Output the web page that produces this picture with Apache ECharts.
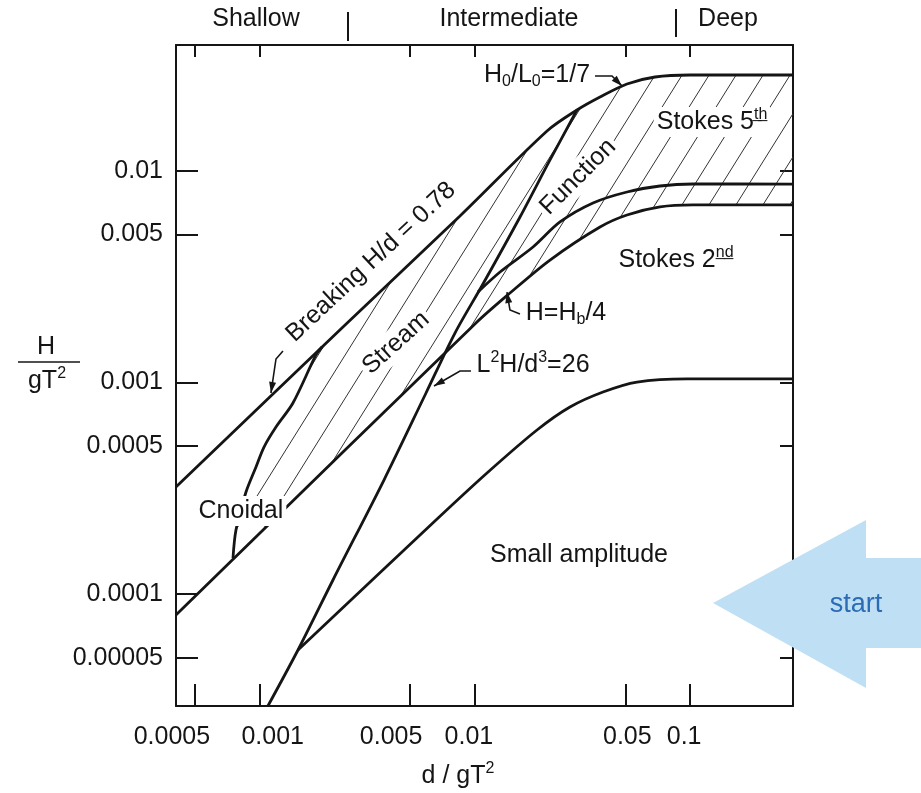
<!DOCTYPE html>
<html><head><meta charset="utf-8">
<script src="https://cdn.jsdelivr.net/npm/echarts@6/dist/echarts.min.js"></script>
<style>html,body{margin:0;padding:0;background:#fff}#c{width:921px;height:793px}</style>
</head><body><div id="c"></div>
<script>
// ---------- data ----------
const xTickValues = [0.0005, 0.001, 0.005, 0.01, 0.05, 0.1];
const xTickLabels = ['0.0005', '0.001', '0.005', '0.01', '0.05', '0.1'];
const yTickValues = [0.01, 0.005, 0.001, 0.0005, 0.0001, 0.00005];
const yTickLabels = ['0.01', '0.005', '0.001', '0.0005', '0.0001', '0.00005'];
const depthZones = ['Shallow', 'Intermediate', 'Deep'];

// Breaking limit H/d = 0.78 joining H0/L0 = 1/7
const breakingD = [0.000408, 0.002437, 0.008522, 0.02163, 0.0298, 0.03813, 0.05088, 0.06868, 0.09986, 0.3];
const breakingH = [0.0003206, 0.001827, 0.006109, 0.0154, 0.01935, 0.02229, 0.02568, 0.02771, 0.02832, 0.02832];
// Ursell line L^2H/d^3 = 26
const ursellD = [0.001093, 0.001506, 0.00219, 0.003779, 0.005926, 0.008078, 0.0109, 0.0162, 0.02233, 0.0298];
const ursellH = [0.0000297, 0.00005445, 0.0001166, 0.0003459, 0.0008912, 0.001711, 0.002916, 0.006043, 0.01124, 0.01935];
// H = Hb/4
const hb4D = [0.000408, 0.01011, 0.01455, 0.02233, 0.03813, 0.05088, 0.07244, 0.1031, 0.3];
const hb4H = [0.0000797, 0.001909, 0.002644, 0.003786, 0.005421, 0.006177, 0.006741, 0.006889, 0.00689];
// Stokes 5th / 2nd boundary
const stokesD = [0.01033, 0.01308, 0.01862, 0.02485, 0.03537, 0.05088, 0.07244, 0.1031, 0.3];
const stokesH = [0.002673, 0.003322, 0.004361, 0.005725, 0.00704, 0.007934, 0.008468, 0.008654, 0.00865];
// Small amplitude limit
const smallD = [0.001506, 0.006594, 0.01138, 0.01943, 0.02765, 0.03937, 0.05663, 0.09671, 0.3];
const smallH = [0.00005445, 0.0002239, 0.0003733, 0.0005959, 0.0007654, 0.000901, 0.001004, 0.00104, 0.00104];
// Cnoidal / Stream function boundary
const cnoidalD = [0.0007513, 0.0007757, 0.0008635, 0.0009609, 0.001047, 0.00119, 0.001427, 0.001826, 0.001947];
const cnoidalH = [0.0001481, 0.0002008, 0.0003036, 0.0003985, 0.0004953, 0.0006157, 0.0007993, 0.001348, 0.00147];

// ---------- helpers / layout ----------
const lg = Math.log10;
const FONT = '"Liberation Sans", Arial, Helvetica, sans-serif';
const INK = '#151515';
const pairs = (xs, ys) => xs.map((x, i) => [lg(x), lg(ys[i])]);
// horizontal nudges of the bottom tick labels (hand-placed in the original)
const xLabelNudge = [-23, 13, -19, -6, 2, -6];

const RICH = {
  sub: { fontSize: 16, lineHeight: 16, verticalAlign: 'bottom', fontFamily: FONT, fill: INK, color: INK },
  sup: { fontSize: 16, lineHeight: 16, verticalAlign: 'top', fontFamily: FONT, fill: INK, color: INK }
};

const annotations = [
  { at: [0.00329, 0.003705], text: 'Breaking H/d = 0.78', rot: 43 },
  { at: [0.004297, 0.001535], text: 'Stream', rot: 42, bg: true },
  { at: [0.03013, 0.009343], text: 'Function', rot: 45, bg: true },
  { at: [0.1264, 0.01699], text: 'Stokes 5{sup|t\u0332h\u0332}', rot: 0, bg: true },
  { at: [0.08598, 0.003786], text: 'Stokes 2{sup|n\u0332d\u0332}', rot: 0 },
  { at: [0.01943, 0.02832], text: 'H{sub|0}/L{sub|0}=1/7', rot: 0 },
  { at: [0.0265, 0.002127], text: 'H=H{sub|b}/4', rot: 0 },
  { at: [0.01862, 0.001209], text: 'L{sup|2}H/d{sup|3}=26', rot: 0 },
  { at: [0.000818, 0.000247], text: 'Cnoidal', rot: 0, bg: true },
  { at: [0.03046, 0.000153], text: 'Small amplitude', rot: 0 }
];
const leaders = [
  { at: [0.001128, 0.0008912], path: [[0, 0], [5, -34], [12, -42]] },
  { at: [0.04825, 0.02513], path: [[0, 0], [-10, -10], [-27, -10]] },
  { at: [0.01409, 0.002673], path: [[0, 0], [3, 18], [13, 22]] },
  { at: [0.006452, 0.0009617], path: [[0, 0], [14, -8], [26, -15], [37, -15]] }
];

function labelFor(values, labels, v) {
  let best = -1, bd = Infinity;
  for (let i = 0; i < values.length; i++) {
    const d = Math.abs(lg(values[i]) - v);
    if (d < bd) { bd = d; best = i; }
  }
  return bd < 1e-3 ? labels[best] : '';
}

function hatchRender(params, api) {
  if (params.dataIndex !== 0) return;
  const pts = [];
  const cnStart = cnoidalD[0], cnEnd = cnoidalD[cnoidalD.length - 1];
  cnoidalD.forEach((d, i) => pts.push(api.coord([lg(d), lg(cnoidalH[i])])));
  breakingD.forEach((d, i) => { if (d > cnEnd) pts.push(api.coord([lg(d), lg(breakingH[i])])); });
  for (let i = hb4D.length - 1; i >= 0; i--) if (hb4D[i] > cnStart) pts.push(api.coord([lg(hb4D[i]), lg(hb4H[i])]));
  const k = 1 / Math.tan(58 * Math.PI / 180);
  const step = 27;
  const us = pts.map(p => p[0] + k * p[1]);
  const umin = Math.min(...us), umax = Math.max(...us);
  const children = [];
  for (let c = Math.ceil(umin / step) * step; c <= umax; c += step) {
    const hits = [];
    for (let i = 0; i < pts.length; i++) {
      const j = (i + 1) % pts.length;
      const u1 = us[i] - c, u2 = us[j] - c;
      if ((u1 < 0 && u2 >= 0) || (u1 >= 0 && u2 < 0)) {
        const t = u1 / (u1 - u2);
        hits.push(pts[i][1] + t * (pts[j][1] - pts[i][1]));
      }
    }
    hits.sort((a, b) => a - b);
    for (let h = 0; h + 1 < hits.length; h += 2) {
      const y1 = hits[h], y2 = hits[h + 1];
      children.push({ type: 'line', shape: { x1: c - k * y1, y1: y1, x2: c - k * y2, y2: y2 },
        style: { stroke: '#333', lineWidth: 1 } });
    }
  }
  return { type: 'group', children };
}

function annRender(params, api) {
  const a = annotations[params.dataIndex];
  const p = api.coord([lg(a.at[0]), lg(a.at[1])]);
  return {
    type: 'text', x: p[0], y: p[1], rotation: a.rot * Math.PI / 180,
    style: {
      text: a.text, fontSize: 25, fontFamily: FONT, fill: INK, align: 'center', verticalAlign: 'middle',
      lineHeight: 30, rich: RICH,
      backgroundColor: a.bg ? '#fff' : 'transparent', padding: a.bg ? [0, 3] : 0
    }
  };
}

function leaderRender(params, api) {
  const l = leaders[params.dataIndex];
  const p = api.coord([lg(l.at[0]), lg(l.at[1])]);
  const pts = l.path.map(o => [p[0] + o[0], p[1] + o[1]]);
  const dx = pts[0][0] - pts[1][0], dy = pts[0][1] - pts[1][1];
  const len = Math.hypot(dx, dy), ux = dx / len, uy = dy / len;
  const bx = pts[0][0] - ux * 11, by = pts[0][1] - uy * 11;
  return {
    type: 'group', children: [
      { type: 'polyline', shape: { points: pts }, style: { stroke: INK, lineWidth: 1.6, fill: null } },
      { type: 'polygon', shape: { points: [pts[0], [bx - uy * 3.5, by + ux * 3.5], [bx + uy * 3.5, by - ux * 3.5]] },
        style: { fill: INK } }
    ]
  };
}

// bottom tick labels: placed at each tick value through the x axis
function xLabelRender(params, api) {
  const i = params.dataIndex;
  const p = api.coord([api.value(0), api.value(1)]);
  return {
    type: 'text', x: p[0] + xLabelNudge[i], y: p[1] + 31,
    style: { text: xTickLabels[i], fontSize: 25, fontFamily: FONT, fill: INK, align: 'center', verticalAlign: 'middle' }
  };
}

const X_MIN = -3.389, X_MAX = -0.522, Y_MIN = -4.5285, Y_MAX = -1.4062;
const xTickLogs = xTickValues.map(lg), yTickLogs = yTickValues.map(lg);

const lineSeries = (name, xs, ys) => ({
  name, type: 'line', data: pairs(xs, ys), showSymbol: false, symbol: 'none', smooth: 0.3,
  lineStyle: { color: INK, width: 2.8 }, z: 3, silent: true
});

const chart = echarts.init(document.getElementById('c'), null, { renderer: 'canvas' });
chart.setOption({
  animation: false,
  backgroundColor: '#fff',
  textStyle: { fontFamily: FONT },
  grid: { left: 176, right: 128, top: 45, bottom: 87 },
  xAxis: [
    { type: 'value', min: X_MIN, max: X_MAX, position: 'bottom',
      axisLine: { show: true, lineStyle: { color: INK, width: 2 } },
      axisTick: { show: true, inside: true, length: 22, customValues: xTickLogs, lineStyle: { color: INK, width: 2 } },
      axisLabel: { show: false },
      splitLine: { show: false } },
    { type: 'value', min: X_MIN, max: X_MAX, position: 'top',
      axisLine: { show: true, lineStyle: { color: INK, width: 2 } },
      axisTick: { show: true, inside: true, length: 12, customValues: xTickLogs, lineStyle: { color: INK, width: 2 } },
      axisLabel: { show: false }, splitLine: { show: false } }
  ],
  yAxis: [
    { type: 'value', min: Y_MIN, max: Y_MAX, position: 'left',
      axisLine: { show: true, lineStyle: { color: INK, width: 2 } },
      axisTick: { show: true, inside: true, length: 22, customValues: yTickLogs, lineStyle: { color: INK, width: 2 } },
      axisLabel: { customValues: yTickLogs, formatter: v => labelFor(yTickValues, yTickLabels, v),
        fontSize: 25, color: INK, margin: 13, fontFamily: FONT, showMinLabel: true, showMaxLabel: true, hideOverlap: false },
      splitLine: { show: false } },
    { type: 'value', min: Y_MIN, max: Y_MAX, position: 'right',
      axisLine: { show: true, lineStyle: { color: INK, width: 2 } },
      axisTick: { show: true, inside: true, length: 13, customValues: yTickLogs, lineStyle: { color: INK, width: 2 } },
      axisLabel: { show: false }, splitLine: { show: false } }
  ],
  series: [
    { type: 'custom', name: 'hatch', renderItem: hatchRender, data: [[X_MIN, Y_MIN]], z: 1, silent: true },
    lineSeries('Breaking', breakingD, breakingH),
    lineSeries('Ursell', ursellD, ursellH),
    lineSeries('Hb/4', hb4D, hb4H),
    lineSeries('Stokes', stokesD, stokesH),
    lineSeries('Small amplitude', smallD, smallH),
    lineSeries('Cnoidal', cnoidalD, cnoidalH),
    { type: 'custom', name: 'leaders', renderItem: leaderRender, data: leaders.map(l => [lg(l.at[0]), lg(l.at[1])]), z: 4, silent: true },
    { type: 'custom', name: 'labels', renderItem: annRender, data: annotations.map(a => [lg(a.at[0]), lg(a.at[1])]), z: 5, silent: true },
    { type: 'custom', name: 'xTickLabels', renderItem: xLabelRender, clip: false, data: xTickLogs.map(v => [v, Y_MIN]), z: 5, silent: true }
  ],
  graphic: [
    { type: 'text', x: 256, y: 19, style: { text: depthZones[0], fontSize: 25, fontFamily: FONT, fill: INK, align: 'center', verticalAlign: 'middle' } },
    { type: 'text', x: 509, y: 19, style: { text: depthZones[1], fontSize: 25, fontFamily: FONT, fill: INK, align: 'center', verticalAlign: 'middle' } },
    { type: 'text', x: 728, y: 19, style: { text: depthZones[2], fontSize: 25, fontFamily: FONT, fill: INK, align: 'center', verticalAlign: 'middle' } },
    { type: 'line', shape: { x1: 348, y1: 12, x2: 348, y2: 41 }, style: { stroke: INK, lineWidth: 2 } },
    { type: 'line', shape: { x1: 676, y1: 9, x2: 676, y2: 37 }, style: { stroke: INK, lineWidth: 2 } },
    { type: 'text', x: 458, y: 776, style: { text: 'd / gT{sup|2}', fontSize: 25, lineHeight: 30, fontFamily: FONT, fill: INK, align: 'center', verticalAlign: 'middle', rich: RICH } },
    { type: 'text', x: 46, y: 347, style: { text: 'H', fontSize: 25, fontFamily: FONT, fill: INK, align: 'center', verticalAlign: 'middle' } },
    { type: 'line', shape: { x1: 18, y1: 362, x2: 80, y2: 362 }, style: { stroke: INK, lineWidth: 1.6 } },
    { type: 'text', x: 47, y: 381, style: { text: 'gT{sup|2}', fontSize: 25, lineHeight: 30, fontFamily: FONT, fill: INK, align: 'center', verticalAlign: 'middle', rich: RICH } },
    { type: 'polygon', z: 100, shape: { points: [[713, 603], [866, 520], [866, 558], [921, 558], [921, 648], [866, 648], [866, 688]] },
      style: { fill: '#bfe0f4' } },
    { type: 'text', z: 101, x: 856, y: 605, style: { text: 'start', fontSize: 27, fontFamily: FONT, fill: '#2b6cb5', align: 'center', verticalAlign: 'middle' } }
  ]
});
</script>
</body></html>
